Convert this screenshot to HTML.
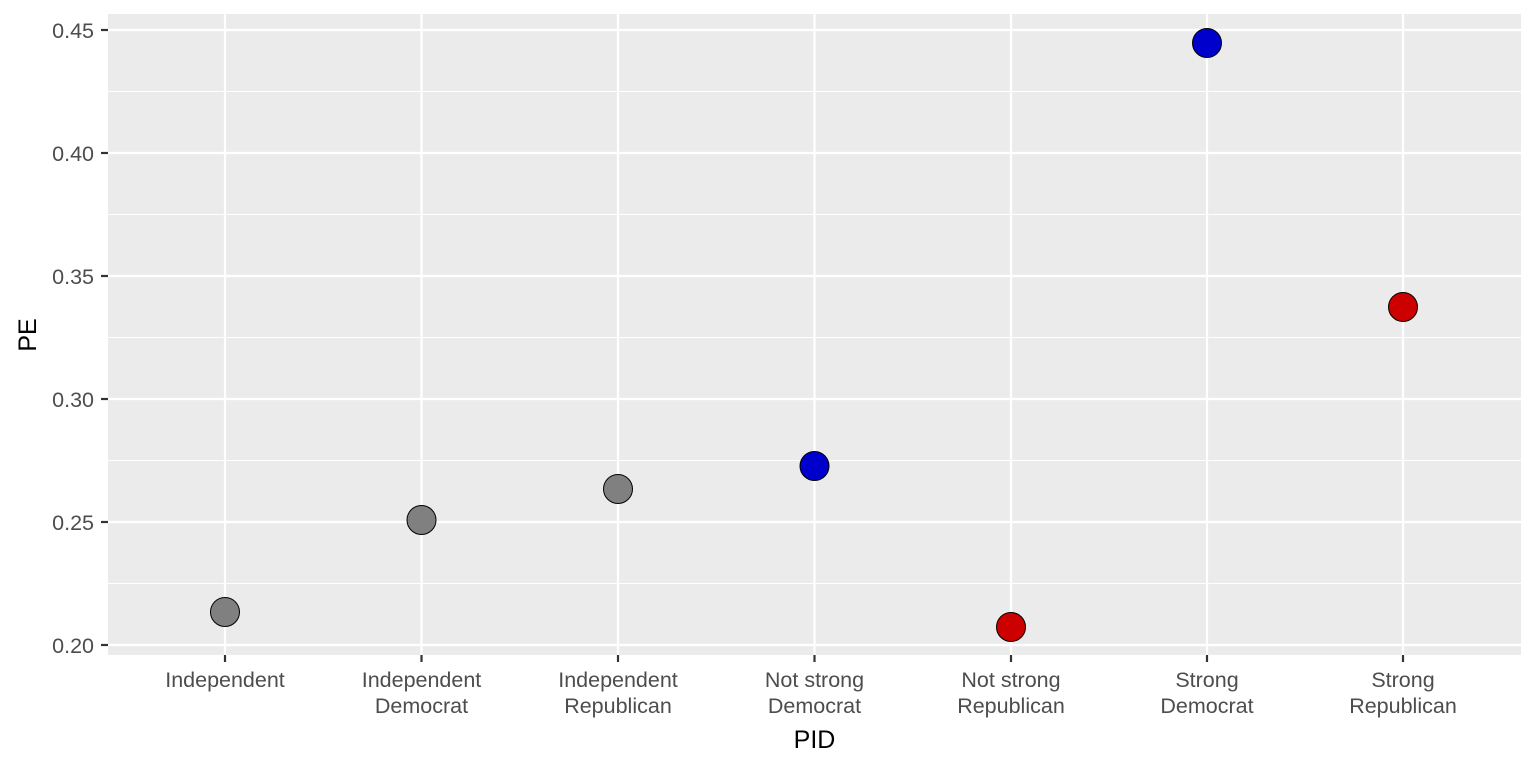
<!DOCTYPE html>
<html><head><meta charset="utf-8"><style>body{margin:0;background:#fff}svg{display:block}</style></head><body>
<svg width="1536" height="768" xmlns="http://www.w3.org/2000/svg" font-family="Liberation Sans, sans-serif">
<rect x="108" y="14" width="1413" height="641" fill="#ebebeb"/>
<g stroke="#fff" stroke-width="1.1">
<line x1="108" x2="1521" y1="91.5" y2="91.5"/>
<line x1="108" x2="1521" y1="214.5" y2="214.5"/>
<line x1="108" x2="1521" y1="337.5" y2="337.5"/>
<line x1="108" x2="1521" y1="460.5" y2="460.5"/>
<line x1="108" x2="1521" y1="583.5" y2="583.5"/>
</g>
<g stroke="#fff" stroke-width="2.2">
<line x1="108" x2="1521" y1="30" y2="30"/>
<line x1="108" x2="1521" y1="153" y2="153"/>
<line x1="108" x2="1521" y1="276" y2="276"/>
<line x1="108" x2="1521" y1="399" y2="399"/>
<line x1="108" x2="1521" y1="522" y2="522"/>
<line x1="108" x2="1521" y1="645" y2="645"/>
<line y1="14" y2="655" x1="225" x2="225"/>
<line y1="14" y2="655" x1="421.5" x2="421.5"/>
<line y1="14" y2="655" x1="618" x2="618"/>
<line y1="14" y2="655" x1="814.5" x2="814.5"/>
<line y1="14" y2="655" x1="1011" x2="1011"/>
<line y1="14" y2="655" x1="1207" x2="1207"/>
<line y1="14" y2="655" x1="1403" x2="1403"/>
</g>
<g stroke="#333" stroke-width="2.2">
<line x1="101" x2="108" y1="30" y2="30"/><line x1="101" x2="108" y1="153" y2="153"/><line x1="101" x2="108" y1="276" y2="276"/><line x1="101" x2="108" y1="399" y2="399"/><line x1="101" x2="108" y1="522" y2="522"/><line x1="101" x2="108" y1="645" y2="645"/>
<line y1="655" y2="662" x1="225" x2="225"/><line y1="655" y2="662" x1="421.5" x2="421.5"/><line y1="655" y2="662" x1="618" x2="618"/><line y1="655" y2="662" x1="814.5" x2="814.5"/><line y1="655" y2="662" x1="1011" x2="1011"/><line y1="655" y2="662" x1="1207" x2="1207"/><line y1="655" y2="662" x1="1403" x2="1403"/>
</g>
<g fill="#4d4d4d" font-size="21.5" text-anchor="end">
<text x="94" y="38">0.45</text><text x="94" y="161">0.40</text><text x="94" y="284">0.35</text><text x="94" y="407">0.30</text><text x="94" y="530">0.25</text><text x="94" y="653">0.20</text>
</g>
<g fill="#4d4d4d" font-size="21.5" text-anchor="middle">
<text x="225" y="687">Independent</text>
<text x="421.5" y="687">Independent</text><text x="421.5" y="713">Democrat</text>
<text x="618" y="687">Independent</text><text x="618" y="713">Republican</text>
<text x="814.5" y="687">Not strong</text><text x="814.5" y="713">Democrat</text>
<text x="1011" y="687">Not strong</text><text x="1011" y="713">Republican</text>
<text x="1207" y="687">Strong</text><text x="1207" y="713">Democrat</text>
<text x="1403" y="687">Strong</text><text x="1403" y="713">Republican</text>
</g>
<text x="814.5" y="748" font-size="25" text-anchor="middle" fill="#000">PID</text>
<text transform="translate(36,335) rotate(-90)" font-size="25" text-anchor="middle" fill="#000">PE</text>
<g stroke="#000" stroke-width="1">
<circle cx="225" cy="612" r="14.5" fill="#808080"/>
<circle cx="421.5" cy="520" r="14.5" fill="#808080"/>
<circle cx="618" cy="489" r="14.5" fill="#808080"/>
<circle cx="814.5" cy="466" r="14.5" fill="#0000cd"/>
<circle cx="1011" cy="627" r="14.5" fill="#cd0000"/>
<circle cx="1207" cy="43" r="14.5" fill="#0000cd"/>
<circle cx="1403" cy="307" r="14.5" fill="#cd0000"/>
</g>
</svg>
</body></html>
